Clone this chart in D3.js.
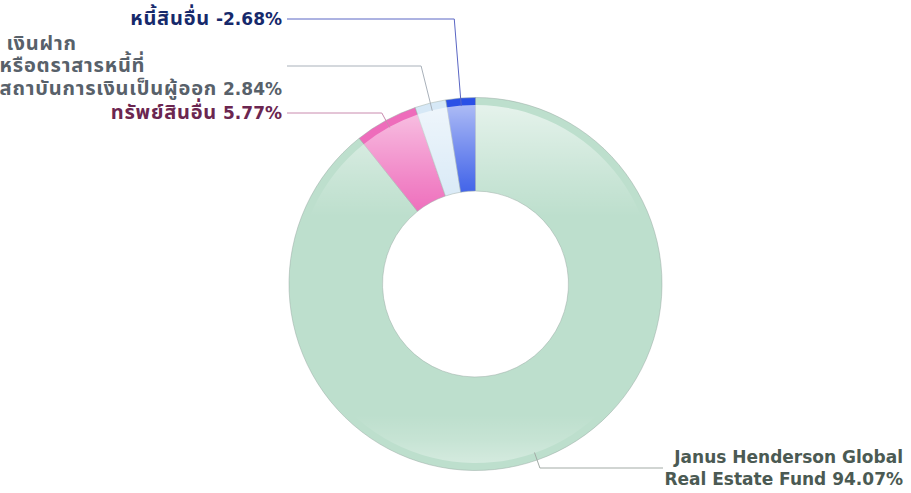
<!DOCTYPE html>
<html>
<head>
<meta charset="utf-8">
<script src="https://cdn.jsdelivr.net/npm/d3@7"></script>
<style>
  body { margin: 0; background: #fff; }
  text { font-family: "DejaVu Sans", "Noto Sans Thai", "Noto Sans Thai UI", "Garuda", "Loma", "Noto Sans", sans-serif; font-weight: bold; }
  .thai { font-size: 20px; letter-spacing: 0.8px; }
</style>
</head>
<body>
<div id="donut-chart"></div>
<script>
// data
const categories = ["Janus Henderson Global Real Estate Fund", "ทรัพย์สินอื่น", "เงินฝากหรือตราสารหนี้ที่สถาบันการเงินเป็นผู้ออก", "หนี้สินอื่น"];
const values = [94.07, 5.77, 2.84, -2.68];
const labelLines = [
    ["Janus Henderson Global", "Real Estate Fund"],
    ["ทรัพย์สินอื่น"],
    ["เงินฝาก", "หรือตราสารหนี้ที่", "สถาบันการเงินเป็นผู้ออก"],
    ["หนี้สินอื่น"]
];
const fills = ["#bddfcd", "#ee6cbb", "#d6e8f6", "#2a50e6"];
const textColors = ["#4b5a53", "#6b2650", "#58616a", "#16296b"];
const leaderColors = ["#a3aba6", "#c98aae", "#a9b1ba", "#5a66c4"];

(function donut() {
    let width = 911,
    height = 493,
    cx = 475.5, cy = 284,
    outerR = 186.5, innerR = 93, glassR = 179,
    labelY = [468, 113, 66, 19];

const svg = d3.select("#donut-chart")
    .append("svg")
    .attr("width", width)
    .attr("height", height);

const defs = svg.append("defs");

// top highlight + bottom highlight (coords local to the centred group)
const grad = defs.append("linearGradient")
    .attr("id", "gloss")
    .attr("gradientUnits", "userSpaceOnUse")
    .attr("x1", 0).attr("x2", 0)
    .attr("y1", -outerR).attr("y2", outerR);
[[0, 0.66], [0.06, 0.52], [0.14, 0.35], [0.22, 0.18], [0.32, 0], [0.85, 0], [0.92, 0.15], [0.97, 0.32], [1, 0.4]]
    .forEach(s => grad.append("stop")
        .attr("offset", s[0])
        .attr("stop-color", "#fff")
        .attr("stop-opacity", s[1]));

const data = categories.map((c, i) => ({ name: c, value: values[i], lines: labelLines[i], i: i }));

const pie = d3.pie()
    .sort(null)
    .value(d => Math.abs(d.value));
const arcs = pie(data);

const arc = d3.arc().innerRadius(innerR).outerRadius(outerR);
const glass = d3.arc().innerRadius(innerR).outerRadius(glassR);

const g = svg.append("g").attr("transform", `translate(${cx},${cy})`);

g.selectAll("path.slice")
    .data(arcs)
    .join("path")
    .attr("class", "slice")
    .attr("d", arc)
    .attr("fill", d => fills[d.data.i])
    .attr("stroke", "#9aaaa4")
    .attr("stroke-opacity", 0.7)
    .attr("stroke-width", 0.7);

g.selectAll("path.glass")
    .data(arcs)
    .join("path")
    .attr("class", "glass")
    .attr("d", glass)
    .attr("fill", "url(#gloss)")
    .attr("stroke", "none");

// labels + leader lines
const labels = svg.append("g");
const isThai = s => /[\u0E00-\u0E7F]/.test(s);

arcs.forEach(d => {
    const i = d.data.i;
    const mid = (d.startAngle + d.endAngle) / 2;
    const sx = Math.sin(mid), sy = -Math.cos(mid);
    const p0 = [cx + sx * (outerR - 8), cy + sy * (outerR - 8)];
    const ly = labelY[i];
    const t = (ly - p0[1]) / sy;
    const p1 = [p0[0] + sx * t, ly];
    const right = sx > 0;
    const p2 = [right ? 663 : 287, ly];

    labels.append("polyline")
        .attr("points", [p0, p1, p2].map(p => p.join(",")).join(" "))
        .attr("fill", "none")
        .attr("stroke", leaderColors[i])
        .attr("stroke-width", 1);

    const lines = d.data.lines;
    const suffix = " " + d.data.value.toFixed(2) + "%";
    const lh = 22.5;
    const top = ly - (lines.length - 1) * lh / 2 + 6;

    // one <text> per line so each can be measured / anchored
    const rows = lines.map((l, k) => {
        const txt = labels.append("text")
            .attr("fill", textColors[i])
            .attr("font-size", 17)
            .attr("y", top + k * lh);
        txt.append("tspan").attr("class", isThai(l) ? "thai" : null).text(l);
        if (k === lines.length - 1) txt.append("tspan").text(suffix);
        return txt;
    });

    if (right) {
        rows.forEach(s => s.attr("x", 903).attr("text-anchor", "end"));
    } else if (lines.length > 2) {
        // block left aligned, last line ending next to the leader
        const w = rows[rows.length - 1].node().getComputedTextLength();
        rows.forEach((s, k) => s.attr("x", 282 - w + (k === 0 ? 7 : 0)));
    } else {
        rows.forEach(s => s.attr("x", 282).attr("text-anchor", "end"));
    }
});
})();
</script>
</body>
</html>
